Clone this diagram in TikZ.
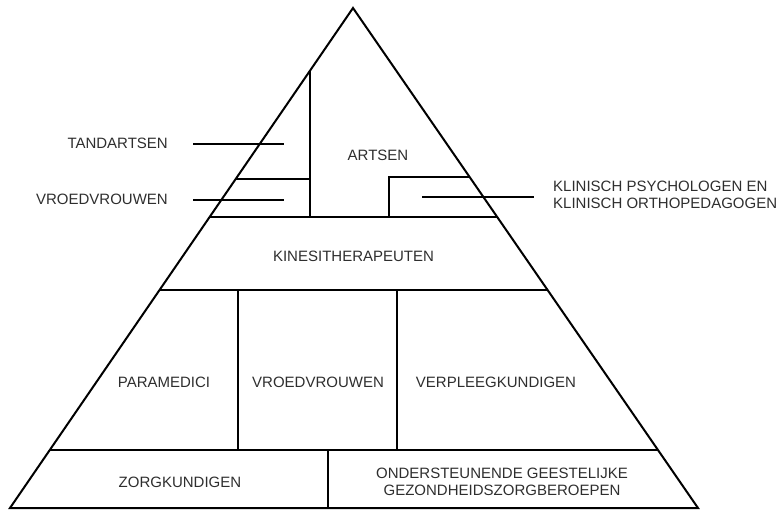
\documentclass[tikz,border=0pt]{standalone}
\usepackage{fontspec}
\setmainfont{Liberation Sans}
\usetikzlibrary{calc}
\begin{document}
\begin{tikzpicture}[x=1pt,y=-1pt,
  wall/.style={draw=black, line width=2pt, line join=miter},
  lbl/.style={font=\fontsize{15}{17.5}\selectfont, text=black!82, inner sep=0pt, align=center}]
\useasboundingbox (0,0) rectangle (782,509);
% pyramid outline
\coordinate (A) at (353,8);
\coordinate (BL) at (10,508);
\coordinate (BR) at (698,508);
\coordinate (L1) at ($(A)!0.418!(BL)$);
\coordinate (R1) at ($(A)!0.418!(BR)$);
\coordinate (L2) at ($(A)!0.564!(BL)$);
\coordinate (R2) at ($(A)!0.564!(BR)$);
\coordinate (L3) at ($(A)!0.884!(BL)$);
\coordinate (R3) at ($(A)!0.884!(BR)$);
\coordinate (LT) at ($(A)!0.124!(BL)$);
\coordinate (LS) at ($(A)!0.342!(BL)$);
\coordinate (RS) at ($(A)!0.338!(BR)$);
\coordinate (RV) at (389,217);
\coordinate (M1) at (238,290);
\coordinate (M2) at (397,290);
\coordinate (B1) at (328,450);
\draw[wall] (A) -- (BR) -- (BL) -- cycle;
\draw[wall] (L1) -- (R1);
\draw[wall] (L2) -- (R2);
\draw[wall] (L3) -- (R3);
\draw[wall] (LT) -- (LT |- L1);
\draw[wall] (LS) -- (LS -| LT);
\draw[wall] (RV) -- (RV |- RS) -- (RS);
\draw[wall] (M1) -- (M1 |- L3);
\draw[wall] (M2) -- (M2 |- L3);
\draw[wall] (B1) -- (B1 |- BL);
% leader lines
\coordinate (ta1) at (193,144); \coordinate (ta2) at (284,144);
\coordinate (vr1) at (193,200); \coordinate (vr2) at (284,200);
\coordinate (kp1) at (422,197); \coordinate (kp2) at (534,197);
\draw[wall] (ta1) -- (ta2);
\draw[wall] (vr1) -- (vr2);
\draw[wall] (kp1) -- (kp2);
% labels
\node[lbl, anchor=east] (tand) at (168,143) {TANDARTSEN};
\node[lbl, anchor=east] (vroedl) at (168,199) {VROEDVROUWEN};
\node[lbl, anchor=west, align=left] (klin) at (553,195) {KLINISCH PSYCHOLOGEN EN\\KLINISCH ORTHOPEDAGOGEN};
\node[lbl] (arts) at (378,155) {ARTSEN};
\node[lbl] (kine) at (353.5,256) {KINESITHERAPEUTEN};
\node[lbl] (para) at (164,382) {PARAMEDICI};
\node[lbl] (vroedm) at (318,382) {VROEDVROUWEN};
\node[lbl] (verpl) at (496,382) {VERPLEEGKUNDIGEN};
\node[lbl] (zorg) at (180,482) {ZORGKUNDIGEN};
\node[lbl] (onder) at (502,482) {ONDERSTEUNENDE GEESTELIJKE\\GEZONDHEIDSZORGBEROEPEN};
\end{tikzpicture}
\end{document}
